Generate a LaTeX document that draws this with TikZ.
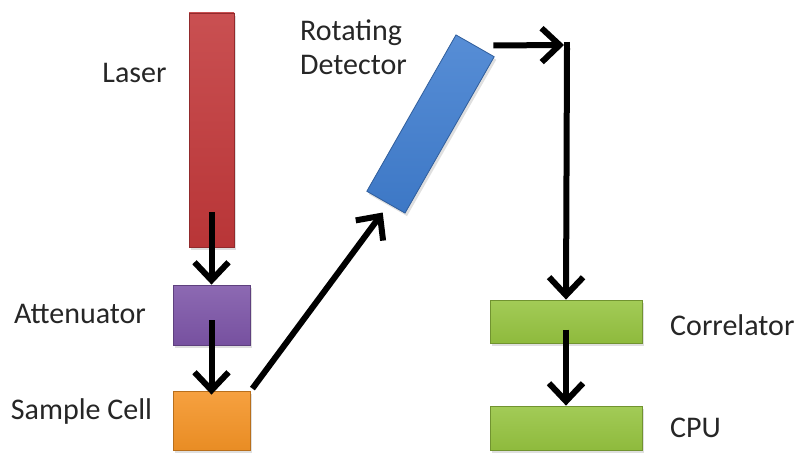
\documentclass[tikz,border=0pt]{standalone}
\usepackage{fontspec}
\setmainfont{Carlito}
\usetikzlibrary{arrows.meta,shadows}
\definecolor{laserc}{RGB}{194,56,58}
\definecolor{attc}{RGB}{125,85,168}
\definecolor{samplec}{RGB}{245,148,38}
\definecolor{detc}{RGB}{64,126,208}
\definecolor{greenc}{RGB}{150,196,64}
\tikzset{
  box/.style={draw=#1!75!black, line width=0.8pt, top color=#1!88!white, bottom color=#1!95!black,
    drop shadow={shadow xshift=2pt, shadow yshift=-3pt, opacity=0.25}, inner sep=0pt, shape=rectangle},
  lbl/.style={font=\fontsize{30}{34}\selectfont, text=black!85, inner sep=0pt},
  flow/.style={line width=6pt, black, -{Straight Barb[length=18pt,width=34pt]}},
  plain/.style={line width=6pt, black}
}
\begin{document}
\begin{tikzpicture}[x=1pt,y=1pt]
\fill[white] (0,0) rectangle (800,453);
\useasboundingbox (0,0) rectangle (800,453);
% boxes
\node[box=laserc, minimum width=45, minimum height=234] (laser) at (211.5,323) {};
\node[box=attc, minimum width=77, minimum height=60] (att) at (211.5,138) {};
\node[box=samplec, minimum width=77, minimum height=59] (sample) at (211.5,32.5) {};
\node[box=detc, minimum width=180, minimum height=44, rotate=60.3] (det) at (430.5,329) {};
\node[box=greenc, minimum width=152, minimum height=43] (corr) at (566,131.5) {};
\node[box=greenc, minimum width=152, minimum height=44] (cpu) at (566,25) {};
% labels
\node[lbl] (tlaser) at (134.5,380) {Laser};
\node[lbl] (tatt) at (80,139) {Attenuator};
\node[lbl] (tsample) at (81.5,42) {Sample Cell};
\node[lbl, anchor=west, align=left] (tdet) at (300,406) {Rotating\\Detector};
\node[lbl, anchor=west] (tcorr) at (670,128) {Correlator};
\node[lbl, anchor=west] (tcpu) at (670,25) {CPU};
% connectors
\coordinate (corner) at (567,408);
\draw[flow] ([yshift=35]laser.south) -- (att.north);
\draw[flow] ([yshift=25]att.south) -- ([yshift=-4]sample.north);
\draw[flow] ([shift={(2,2)}]sample.north east) -- ([shift={(-3,-10)}]det.west);
\draw[flow] ([xshift=18]det.east) -- ([xshift=-3]corner);
\draw[plain] ([yshift=3]corner) -- ([yshift=-40]corner);
\draw[flow] ([yshift=-3]corner) -- (corr.north);
\draw[flow] ([yshift=-8]corr.center) -- (cpu.north);
\end{tikzpicture}
\end{document}
